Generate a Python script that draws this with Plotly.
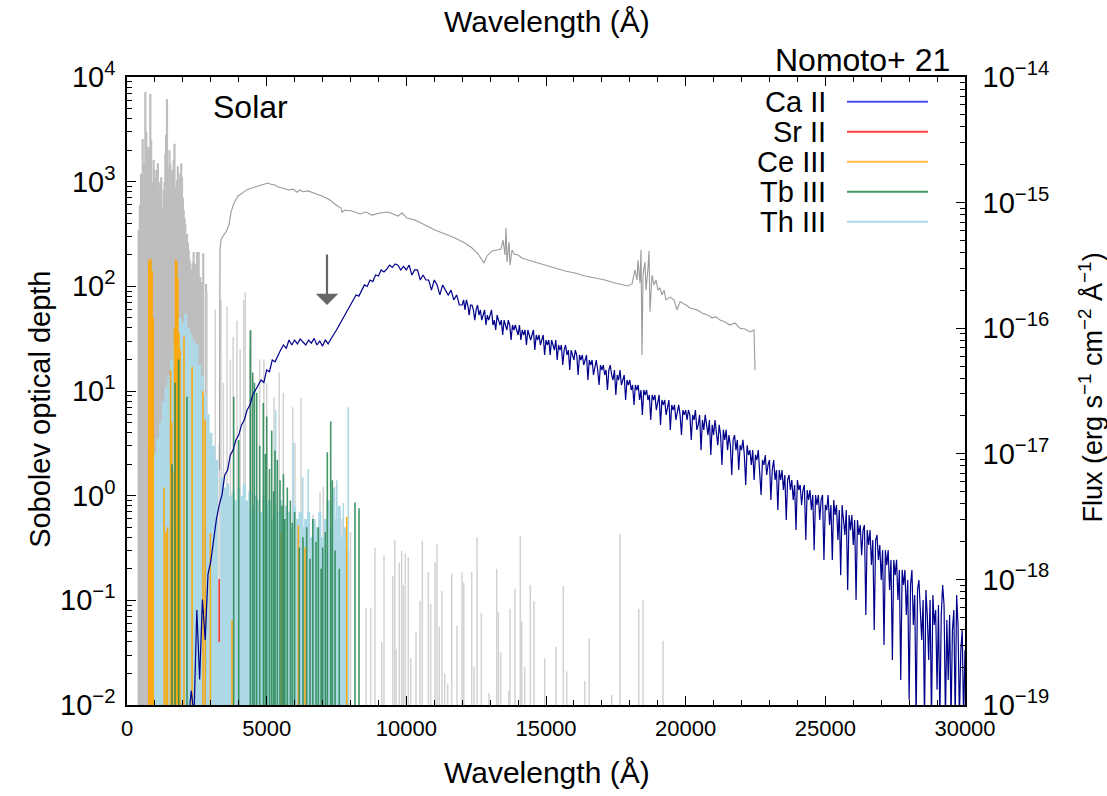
import math
import plotly.graph_objects as go

# ---------------- data ----------------
# Model spectrum (navy), flux in erg/s/cm^2/A  -> right axis
model_wl = [2200, 2300, 2400, 2500, 2600, 2700, 2800, 2900, 3000, 3100, 3200, 3300, 3400, 3500, 3600, 3700, 3800, 3900,
            4000, 4100, 4200, 4300, 4400, 4500, 4600, 4700, 4800, 4900, 5000, 5100, 5200, 5300, 5400, 5500, 5600, 5700,
            5800, 5900, 6000, 6100, 6200, 6300, 6400, 6500, 6600, 6700, 6800, 6900, 7000, 7100, 7200, 7300, 7400, 7500,
            7600, 7700, 7800, 7900, 8000, 8100, 8200, 8300, 8400, 8500, 8600, 8700, 8800, 8900, 9000, 9100, 9200, 9300,
            9400, 9500, 9600, 9700, 9800, 9900, 10000, 10100, 10200, 10300, 10400, 10500, 10600, 10700, 10800, 10900,
            11000, 11100, 11200, 11300, 11400, 11500, 11600, 11700, 11800, 11900,
            12000, 12050, 12100, 12150, 12200, 12250, 12300, 12350, 12400, 12450, 12500, 12550, 12600, 12650, 12700,
            12750, 12800, 12850, 12900, 12950, 13000, 13050, 13100, 13150, 13200, 13250, 13300, 13350, 13400, 13450,
            13500, 13550, 13600, 13650, 13700, 13750, 13800, 13850, 13900, 13950, 14000, 14050, 14100, 14150, 14200,
            14250, 14300, 14350, 14400, 14450, 14500, 14550, 14600, 14650, 14700, 14750, 14800, 14850, 14900, 14950,
            15000, 15050, 15100, 15150, 15200, 15250, 15300, 15350, 15400, 15450, 15500, 15550, 15600, 15650, 15700,
            15750, 15800, 15850, 15900, 15950, 16000, 16050, 16100, 16150, 16200, 16250, 16300, 16350, 16400, 16450,
            16500, 16550, 16600, 16650, 16700, 16750, 16800, 16850, 16900, 16950, 17000, 17050, 17100, 17150, 17200,
            17250, 17300, 17350, 17400, 17450, 17500, 17550, 17600, 17650, 17700, 17750, 17800, 17850, 17900, 17950,
            18000, 18050, 18100, 18150, 18200, 18250, 18300, 18350, 18400, 18450, 18500, 18550, 18600, 18650, 18700,
            18750, 18800, 18850, 18900, 18950, 19000, 19050, 19100, 19150, 19200, 19250, 19300, 19350, 19400, 19450,
            19500, 19550, 19600, 19650, 19700, 19750, 19800, 19850, 19900, 19950, 20000, 20050, 20100, 20150, 20200,
            20250, 20300, 20350, 20400, 20450, 20500, 20550, 20600, 20650, 20700, 20750, 20800, 20850, 20900, 20950,
            21000, 21050, 21100, 21150, 21200, 21250, 21300, 21350, 21400, 21450, 21500, 21550, 21600, 21650, 21700,
            21750, 21800, 21850, 21900, 21950, 22000, 22050, 22100, 22150, 22200, 22250, 22300, 22350, 22400, 22450,
            22500, 22550, 22600, 22650, 22700, 22750, 22800, 22850, 22900, 22950, 23000, 23050, 23100, 23150, 23200,
            23250, 23300, 23350, 23400, 23450, 23500, 23550, 23600, 23650, 23700, 23750, 23800, 23850, 23900, 23950,
            24000, 24050, 24100, 24150, 24200, 24250, 24300, 24350, 24400, 24450, 24500, 24550, 24600, 24650, 24700,
            24750, 24800, 24850, 24900, 24950, 25000, 25050, 25100, 25150, 25200, 25250, 25300, 25350, 25400, 25450,
            25500, 25550, 25600, 25650, 25700, 25750, 25800, 25850, 25900, 25950, 26000, 26050, 26100, 26150, 26200,
            26250, 26300, 26350, 26400, 26450, 26500, 26550, 26600, 26650, 26700, 26750, 26800, 26850, 26900, 26950,
            27000, 27050, 27100, 27150, 27200, 27250, 27300, 27350, 27400, 27450, 27500, 27550, 27600, 27650, 27700,
            27750, 27800, 27850, 27900, 27950, 28000, 28050, 28100, 28150, 28200, 28250, 28300, 28350, 28400, 28450,
            28500, 28550, 28600, 28650, 28700, 28750, 28800, 28850, 28900, 28950, 29000, 29050, 29100, 29150, 29200,
            29250, 29300, 29350, 29400, 29450, 29500, 29550, 29600, 29650, 29700, 29750, 29800, 29850, 29900, 29950,
            30000]
model_flux = [7.6e-20, 1.3e-19, 8.3e-20, 5.7e-19, 1.6e-19, 6.9e-19, 3.3e-19, 1.1e-18, 1.4e-18, 2.1e-18, 3.0e-18,
              3.9e-18, 4.7e-18, 6.8e-18, 7.4e-18, 9.8e-18, 1.07e-17, 1.29e-17,
              1.41e-17, 1.70e-17, 1.86e-17, 2.23e-17, 2.45e-17, 2.94e-17, 3.22e-17, 3.53e-17, 3.87e-17, 3.7e-17,
              4.65e-17, 4.5e-17, 5.58e-17, 5.4e-17, 6.12e-17, 6.70e-17, 7.35e-17, 6.9e-17,
              8.05e-17, 7.35e-17, 8.05e-17, 7.5e-17, 8.2e-17, 7.7e-17, 7.35e-17, 8.05e-17, 7.6e-17, 8.3e-17, 7.35e-17,
              7.9e-17, 7.2e-17, 8.05e-17, 7.5e-17, 8.2e-17, 8.83e-17, 9.68e-17,
              1.06e-16, 1.16e-16, 1.27e-16, 1.40e-16, 1.53e-16, 1.68e-16, 1.84e-16, 1.80e-16, 2.01e-16, 2.21e-16,
              2.15e-16, 2.42e-16, 2.35e-16, 2.65e-16, 2.60e-16, 2.91e-16, 2.80e-16, 2.95e-16,
              3.18e-16, 3.05e-16, 3.25e-16, 3.18e-16, 2.91e-16, 3.10e-16, 2.91e-16, 3.18e-16, 2.65e-16, 2.91e-16,
              2.91e-16, 2.42e-16, 2.65e-16, 2.42e-16, 2.42e-16, 2.01e-16,
              2.42e-16, 2.21e-16, 1.84e-16, 2.21e-16, 2.01e-16, 1.84e-16, 2.01e-16, 1.68e-16, 1.84e-16, 1.53e-16,
              # 12000 - 15000
              1.53e-16, 1.68e-16, 1.40e-16, 1.68e-16, 1.53e-16, 1.27e-16, 1.53e-16, 1.53e-16, 1.40e-16, 1.16e-16,
              1.40e-16, 1.53e-16, 1.27e-16, 1.40e-16, 1.16e-16, 1.27e-16, 1.40e-16, 1.06e-16, 1.27e-16, 1.16e-16,
              1.27e-16, 1.40e-16, 1.06e-16, 1.16e-16, 9.68e-17, 1.27e-16, 1.16e-16, 1.06e-16, 1.16e-16, 8.83e-17,
              1.16e-16, 1.06e-16, 9.68e-17, 1.16e-16, 1.06e-16, 8.05e-17, 1.06e-16, 9.68e-17, 1.06e-16, 9.68e-17,
              8.83e-17, 1.06e-16, 8.05e-17, 9.68e-17, 8.83e-17, 9.68e-17, 7.35e-17, 9.68e-17, 8.83e-17, 8.05e-17,
              8.83e-17, 9.68e-17, 6.70e-17, 8.83e-17, 8.05e-17, 8.83e-17, 7.35e-17, 8.05e-17, 8.83e-17, 6.12e-17,
              8.05e-17,
              # 15050 - 20000
              7.35e-17, 8.05e-17, 6.12e-17, 8.05e-17, 7.35e-17, 6.70e-17, 8.05e-17, 5.58e-17, 7.35e-17, 6.70e-17,
              7.35e-17, 5.09e-17, 6.70e-17, 7.35e-17, 6.12e-17, 6.70e-17, 4.65e-17, 6.70e-17, 6.12e-17, 5.58e-17,
              6.70e-17, 6.12e-17, 4.24e-17, 6.12e-17, 5.58e-17, 6.12e-17, 5.09e-17, 5.58e-17, 6.12e-17, 3.87e-17,
              5.58e-17, 5.09e-17, 5.58e-17, 4.24e-17, 5.09e-17, 5.58e-17, 4.65e-17, 3.53e-17, 5.09e-17, 4.65e-17,
              5.09e-17, 4.24e-17, 4.65e-17, 3.22e-17, 4.65e-17, 5.09e-17, 4.24e-17, 3.87e-17, 4.65e-17, 2.94e-17,
              4.24e-17, 3.87e-17, 4.65e-17, 3.53e-17, 3.87e-17, 4.24e-17, 2.68e-17, 3.87e-17, 3.53e-17, 3.87e-17,
              3.22e-17, 3.53e-17, 2.45e-17, 3.53e-17, 3.22e-17, 3.53e-17, 2.68e-17, 3.22e-17, 2.04e-17, 3.22e-17,
              2.94e-17, 3.22e-17, 2.68e-17, 2.94e-17, 1.86e-17, 2.94e-17, 2.68e-17, 2.94e-17, 2.23e-17, 2.68e-17,
              2.94e-17, 1.70e-17, 2.68e-17, 2.45e-17, 2.68e-17, 2.04e-17, 2.45e-17, 2.68e-17, 1.55e-17, 2.45e-17,
              2.23e-17, 2.45e-17, 1.86e-17, 2.23e-17, 2.45e-17, 2.04e-17, 1.41e-17, 2.23e-17, 2.04e-17, 2.23e-17,
              # 20050 - 25000
              1.86e-17, 2.23e-17, 2.04e-17, 1.29e-17, 2.04e-17, 1.86e-17, 2.23e-17, 1.55e-17, 1.70e-17, 2.04e-17,
              1.07e-17, 1.86e-17, 1.55e-17, 2.04e-17, 1.70e-17, 1.41e-17, 1.86e-17, 9.78e-18, 1.70e-17, 1.41e-17,
              1.86e-17, 1.55e-17, 1.17e-17, 1.70e-17, 1.41e-17, 8.15e-18, 1.55e-17, 1.29e-17, 1.55e-17, 1.07e-17,
              1.41e-17, 1.17e-17, 6.78e-18, 1.29e-17, 1.41e-17, 1.07e-17, 1.29e-17, 7.43e-18, 1.17e-17, 1.07e-17,
              1.29e-17, 9.78e-18, 5.65e-18, 1.17e-17, 9.78e-18, 1.07e-17, 8.15e-18, 1.07e-17, 6.19e-18, 9.78e-18,
              8.93e-18, 1.07e-17, 7.43e-18, 4.70e-18, 8.93e-18, 8.15e-18, 9.78e-18, 6.78e-18, 8.15e-18, 8.93e-18,
              4.29e-18, 7.43e-18, 8.93e-18, 6.19e-18, 7.43e-18, 3.57e-18, 7.43e-18, 6.19e-18, 7.43e-18, 5.15e-18,
              6.78e-18, 2.97e-18, 6.19e-18, 6.78e-18, 5.15e-18, 6.19e-18, 4.29e-18, 5.65e-18, 2.47e-18, 6.19e-18,
              5.15e-18, 5.65e-18, 3.91e-18, 5.15e-18, 5.65e-18, 2.06e-18, 5.15e-18, 4.29e-18, 5.15e-18, 3.57e-18,
              4.70e-18, 1.71e-18, 4.70e-18, 3.91e-18, 4.70e-18, 2.97e-18, 4.29e-18, 4.70e-18, 1.43e-18, 3.91e-18,
              # 25050 - 28000
              3.57e-18, 4.70e-18, 2.71e-18, 3.91e-18, 1.43e-18, 4.29e-18, 3.26e-18, 3.91e-18, 2.06e-18, 3.57e-18,
              1.08e-18, 3.91e-18, 2.97e-18, 2.26e-18, 3.57e-18, 8.24e-19, 3.26e-18, 2.47e-18, 3.26e-18, 1.88e-18,
              2.97e-18, 6.85e-19, 2.97e-18, 2.26e-18, 2.71e-18, 1.56e-18, 2.47e-18, 2.71e-18, 5.21e-19, 2.47e-18,
              1.88e-18, 2.47e-18, 1.30e-18, 2.06e-18, 3.95e-19, 2.06e-18, 2.26e-18, 1.43e-18, 1.88e-18, 9.89e-19,
              1.71e-18, 3.01e-19, 1.71e-18, 1.30e-18, 1.71e-18, 8.24e-19, 1.43e-18, 2.28e-19, 1.43e-18, 1.08e-18,
              1.43e-18, 6.85e-19, 1.19e-18, 1.58e-19, 1.19e-18, 9.02e-19, 1.19e-18, 5.21e-19, 9.89e-19, 1.10e-19,
              # 28050 - 30000
              9.02e-19, 1.19e-18, 4.34e-19, 7.51e-19, 7.6e-20, 8.24e-19, 9.89e-19, 5.70e-19, 3.29e-19, 6.85e-19,
              7.6e-20, 8.24e-19, 5.21e-19, 2.28e-19, 6.85e-19, 7.6e-20, 7.51e-19, 4.34e-19, 5.70e-19, 1.32e-19,
              6.25e-19, 7.6e-20, 5.21e-19, 9.02e-19, 6.25e-19, 7.6e-20, 4.75e-19, 1.58e-19, 5.21e-19, 7.6e-20,
              3.95e-19, 5.70e-19, 7.6e-20, 7.51e-19, 4.34e-19, 7.6e-20, 2.74e-19, 3.95e-19, 7.6e-20, 2.74e-19]

# Observed spectrum (gray), right axis
obs_wl = [3312, 3329, 3365, 3437, 3544, 3652, 3723, 3831, 3974, 4153, 4332, 4582, 4700, 4833, 5048, 5150, 5298, 5420,
          5549, 5800, 5943, 6086, 6193, 6300, 6480, 6730, 6981, 7100, 7267, 7482, 7661, 7697, 7804, 8055, 8341, 8556,
          8771, 9057, 9344, 9523, 9702, 9845, 10024, 10310, 10668, 11026, 11384, 11742, 12100, 12351, 12566, 12709,
          12781, 12888, 13067, 13246, 13389, 13461, 13532, 13568, 13604, 13676, 13711, 13783, 13855, 13998, 14141,
          14356, 14606, 14964, 15322, 15680, 16038, 16396, 16754, 17112, 17470, 17721, 17936, 18079, 18186, 18258,
          18294, 18365, 18401, 18437, 18473, 18544, 18580, 18652, 18688, 18723, 18795, 18867, 18938, 19010, 19081,
          19153, 19225, 19296, 19439, 19583, 19690, 19797, 20012, 20155, 20406, 20585, 20800, 20943, 21086, 21229,
          21408, 21587, 21766, 21945, 22124, 22303, 22447, 22482]
obs_flux = [7.4e-18, 4.19e-16, 5.04e-16, 5.42e-16, 5.83e-16, 6.64e-16, 8.41e-16, 9.93e-16, 1.13e-15, 1.21e-15,
            1.28e-15, 1.33e-15, 1.35e-15, 1.38e-15, 1.43e-15, 1.40e-15, 1.38e-15, 1.33e-15,
            1.31e-15, 1.26e-15, 1.28e-15, 1.21e-15, 1.26e-15, 1.22e-15, 1.24e-15, 1.19e-15, 1.13e-15, 1.10e-15,
            1.05e-15, 9.57e-16, 9.06e-16, 8.41e-16, 8.73e-16, 8.57e-16, 8.11e-16, 8.41e-16,
            7.96e-16, 8.26e-16, 8.41e-16, 8.11e-16, 7.82e-16, 8.26e-16, 7.54e-16, 7.27e-16, 6.64e-16, 6.05e-16,
            5.62e-16, 5.22e-16, 4.77e-16, 4.35e-16, 3.90e-16, 3.49e-16,
            3.30e-16, 3.76e-16, 4.12e-16, 4.19e-16, 4.27e-16, 5.04e-16, 3.83e-16, 6.28e-16, 3.37e-16, 4.86e-16,
            3.18e-16, 4.19e-16, 3.90e-16, 3.83e-16, 3.62e-16,
            3.49e-16, 3.37e-16, 3.18e-16, 3.01e-16, 2.85e-16, 2.75e-16, 2.60e-16, 2.51e-16, 2.42e-16, 2.29e-16,
            2.21e-16, 2.17e-16, 2.25e-16, 2.91e-16, 2.42e-16,
            3.49e-16, 2.29e-16, 4.19e-16, 6.12e-17, 2.65e-16, 3.37e-16, 2.01e-16, 3.01e-16, 4.12e-16, 1.35e-16,
            2.65e-16, 2.21e-16, 2.42e-16, 2.01e-16, 2.09e-16,
            1.84e-16, 2.01e-16, 1.68e-16, 1.77e-16, 1.68e-16, 1.40e-16, 1.62e-16, 1.53e-16, 1.45e-16, 1.40e-16,
            1.32e-16, 1.27e-16, 1.21e-16, 1.23e-16, 1.16e-16,
            1.12e-16, 1.06e-16, 1.10e-16, 1.00e-16, 9.86e-17, 9.33e-17, 9.68e-17, 4.65e-17]

# Sobolev optical depths of lines (left axis)
all_dense_wl = [418, 460, 501, 530, 561, 610, 656, 690, 716, 750, 776, 805, 835, 865, 895, 925, 955, 985, 1015, 1045,
                1074, 1105, 1134, 1165, 1193, 1225, 1253, 1285, 1313, 1345, 1372, 1400, 1432, 1462, 1492, 1520, 1551,
                1580, 1611, 1640, 1671, 1700, 1730, 1760, 1790, 1820, 1850, 1880, 1909, 1940, 1969, 2000, 2029, 2060,
                2088, 2120, 2148, 2180, 2208, 2240, 2267, 2300, 2327, 2360, 2387, 2420, 2446, 2480, 2506, 2540, 2566,
                2600, 2625, 2670, 2730, 2830]
all_dense_tau = [346, 600, 1190, 900, 2560, 1500, 7190, 3000, 2140, 1200, 2140, 1800, 6880, 2500, 990, 700, 1610, 1300,
                 1110, 800, 1290, 1500, 990, 700, 950, 1100, 573, 400, 834, 1000, 1840, 2800, 6160, 900, 1380, 2000,
                 1480, 1100, 1290, 900, 1610, 2300, 890, 700, 1040, 1400, 1190, 800, 1110, 1500, 1110, 700, 537, 450,
                 394, 300, 316, 260, 223, 180, 164, 120, 144, 170, 213, 150, 164, 120, 213, 180, 213, 90, 123, 110,
                 207, 105]
all_sparse_wl = [2864, 3162, 3300, 3365, 3450, 3580, 3700, 3800, 3938, 4050, 4178, 4235, 4400, 4450, 4750, 4900, 5000,
                 5263, 5450, 5596, 5932, 6014, 6229, 6659, 6909, 7028, 7300, 7507, 7700, 8000, 8556, 8724, 8878, 9118,
                 9201, 9512, 9584, 9630, 9748, 9834, 9891, 9963, 10070, 10157, 10346, 10490, 10572, 10787, 10872,
                 11026, 11098, 11180, 11277, 11374, 11481, 11624, 11814, 11993, 12054, 12340, 12423, 12530, 12684,
                 12960, 13235, 13293, 13378, 13665, 13711, 13890, 14080, 14130, 14237, 14438, 14571, 14954, 15358,
                 15620, 15741, 16386, 16550, 17352, 17649, 18319, 18473, 19189]
all_sparse_tau = [90, 60, 3.2, 74, 12, 64, 20, 33, 47, 25, 74, 88, 25, 38, 20, 20, 12, 8.8, 15, 9.6, 7.0, 3.2, 8.6,
                  0.66, 1.09, 1.21, 0.9, 1.33, 0.6, 0.45, 0.085, 0.085, 0.32, 0.040, 0.27, 0.171, 0.38, 0.034, 0.23,
                  0.30, 0.14, 0.28, 0.26, 0.028, 0.050, 0.099, 0.37, 0.187, 0.093, 0.23, 0.35, 0.056, 0.123, 0.020,
                  0.016, 0.18, 0.057, 0.184, 0.147, 0.187, 0.023, 0.40, 0.076, 0.013, 0.20, 0.077, 0.032, 0.0137,
                  0.083, 0.129, 0.41, 0.063, 0.023, 0.14, 0.098, 0.028, 0.036, 0.137, 0.021, 0.017, 0.043, 0.0125,
                  0.43, 0.083, 0.10, 0.041]

caII_wl = [2137, 2506, 2864, 3162]
caII_tau = [0.11, 0.13, 0.5, 0.22]

srII_wl = [3300]
srII_tau = [0.16]

ceIII_wl = [780, 820, 860, 900, 940, 1330, 1400, 1450, 1560, 1600, 1640, 1700, 1740, 1780, 1820, 1860, 1900, 2040,
            2330, 2720, 2800, 2983, 3760, 5525, 6133, 6372, 7865]
ceIII_tau = [180, 170, 183, 140, 50, 1.2, 0.45, 0.5, 16, 5, 1.7, 40, 180, 175, 120, 36, 25, 33,
             17, 10, 5.3, 0.44, 0.065, 0.44, 0.52, 0.32, 0.63]

tbIII_wl = [1611, 1720, 1850, 2148, 3820, 4000, 4415, 4500, 4560, 4643, 4750, 4880, 4950, 5001, 5100, 5180, 5250,
            5298, 5381, 5477, 5550, 5600, 5650, 5739, 5850, 5918, 6000, 6168, 6300, 6433, 6550, 6650, 6766, 6849,
            6950, 7006, 7100, 7171, 7292, 7350, 7450, 7600, 8162, 8306]
tbIII_tau = [2.0, 12, 20, 8.8, 8.8, 3.4, 38, 15, 12, 9.6, 3.0, 7.7, 2.5, 5.7, 1.8, 4.2, 1.1,
             2.7, 2.2, 1.4, 0.8, 1.6, 0.6, 1.2, 0.9, 0.55, 0.7, 0.32, 0.4, 0.50, 0.25, 0.6, 0.36, 0.50,
             0.2, 0.32, 0.45, 2.6, 5.1, 1.4, 0.3, 0.2, 0.86, 0.76]

thIII_wl = [900, 1000, 1100, 1200, 1300, 1400, 1500, 1600, 1700, 1800, 1900, 2000, 2100, 2200, 2300, 2400, 2500, 2600,
            2700, 2800, 2900, 3000, 3100, 3200, 3300, 3400, 3500, 3600, 3700, 3800, 3900, 4000, 4100, 4200, 4300,
            4400, 4500, 4600, 4700, 4800, 4900, 5000, 5100, 5200, 5300, 5400, 5500, 5600, 5700, 5800, 5900, 6000,
            6100, 6200, 6300, 6400, 6500, 6600, 6700, 6800, 6900, 7000, 7100, 7200, 7300, 7400, 7500, 7600, 7700,
            7800, 7900]
thIII_tau = [3.0, 2.5, 3.5, 5, 8, 11, 14, 20, 28, 40, 50, 45, 55, 40, 35, 30, 28, 18,
             14, 9, 6, 4, 3, 2.2, 0.04, 1.5, 1.2, 1.3, 1.0, 1.1, 0.9, 1.2, 1.0, 1.3, 0.9,
             1.1, 0.8, 1.0, 0.9, 0.7, 1.0, 0.8, 0.9, 0.6, 0.8, 0.7, 0.9, 0.6, 0.8, 0.7, 0.5, 0.8,
             0.6, 0.7, 0.5, 0.6, 0.7, 0.4, 0.6, 0.5, 0.7, 0.4, 0.6, 0.9, 0.5, 1.2, 0.6, 0.8, 0.4,
             0.5, 0.3]
thIII_strong_wl = [5320, 5954, 6290, 6490, 7507, 7744, 7923]
thIII_strong_tau = [6.6, 3.2, 1.5, 1.8, 1.4, 0.85, 7.0]

arrow_wl = 7160
arrow_tip_flux = 1.53e-16

x_range = [0, 30000]
tau_range_log = [-2, 4]
flux_range_log = [-19, -14]

assert len(model_wl) == len(model_flux)
assert len(obs_wl) == len(obs_flux)

# ---------------- helpers ----------------
FLOOR = 1e-4


def impulses(wls, taus):
    xs, ys = [], []
    for w, t in zip(wls, taus):
        xs += [w, w, None]
        ys += [FLOOR, t, None]
    return xs, ys


fig = go.Figure()


def add_lines(wls, taus, color, width, name):
    xs, ys = impulses(wls, taus)
    fig.add_trace(go.Scatter(x=xs, y=ys, mode="lines", line=dict(color=color, width=width),
                             name=name, showlegend=False, hoverinfo="skip", xaxis="x", yaxis="y"))


add_lines(all_dense_wl, all_dense_tau, "#bebebe", 2.2, "all")
add_lines(all_sparse_wl, all_sparse_tau, "#d2d2d2", 1.5, "all")
add_lines(caII_wl, caII_tau, "rgba(0,0,255,0.65)", 1.6, "Ca II")
add_lines(srII_wl, srII_tau, "rgba(255,0,0,0.75)", 1.6, "Sr II")
add_lines(thIII_wl, thIII_tau, "#add8e6", 3.2, "Th III")
add_lines(thIII_strong_wl, thIII_strong_tau, "#add8e6", 1.6, "Th III")
add_lines(ceIII_wl, ceIII_tau, "rgba(255,165,0,0.9)", 1.6, "Ce III")
add_lines(tbIII_wl, tbIII_tau, "rgba(46,139,87,0.9)", 1.6, "Tb III")

fig.add_trace(go.Scatter(x=model_wl, y=model_flux, mode="lines", line=dict(color="#00008b", width=1.2),
                         showlegend=False, hoverinfo="skip", xaxis="x", yaxis="y2"))
fig.add_trace(go.Scatter(x=obs_wl, y=obs_flux, mode="lines", line=dict(color="#9a9a9a", width=1.1),
                         showlegend=False, hoverinfo="skip", xaxis="x", yaxis="y2"))
# invisible trace anchoring the top axis
fig.add_trace(go.Scatter(x=x_range, y=[1, 1], mode="lines", opacity=0, showlegend=False,
                         hoverinfo="skip", xaxis="x2", yaxis="y"))

FONT = "Liberation Sans, Arial, Helvetica, sans-serif"
xtick_font = dict(family=FONT, size=22, color="black")
ytick_font = dict(family=FONT, size=29, color="black")

left_vals = [10.0 ** k for k in range(-2, 5)]
left_text = ["10<sup>−2</sup>", "10<sup>−1</sup>", "10<sup>0</sup>", "10<sup>1</sup>", "10<sup>2</sup>",
             "10<sup>3</sup>", "10<sup>4</sup>"]
left_minor = [m * 10.0 ** k for k in range(-2, 4) for m in range(2, 10)]
right_vals = [10.0 ** k for k in range(-19, -13)]
right_text = ["10<sup>−19</sup>", "10<sup>−18</sup>", "10<sup>−17</sup>", "10<sup>−16</sup>", "10<sup>−15</sup>",
              "10<sup>−14</sup>"]
right_minor = [m * 10.0 ** k for k in range(-19, -14) for m in range(2, 10)]

axis_common = dict(showline=True, linecolor="black", linewidth=1.5, ticks="inside", tickcolor="black",
                   tickwidth=1.2, showgrid=False, zeroline=False, automargin=False)

fig.update_layout(
    width=1107, height=796, autosize=False,
    margin=dict(l=127, r=142, t=77, b=91, pad=0),
    paper_bgcolor="white", plot_bgcolor="white",
    font=dict(family=FONT, color="black"),
    showlegend=False,
    xaxis=dict(range=x_range, tick0=0, dtick=5000, tickformat="d", ticklen=9, tickfont=xtick_font,
               ticklabelstandoff=3,
               minor=dict(dtick=1000, tick0=0, ticks="inside", ticklen=5, tickcolor="black", tickwidth=1),
               **axis_common),
    xaxis2=dict(range=x_range, overlaying="x", side="top", tick0=0, dtick=5000, ticklen=9,
                showticklabels=False, anchor="y",
                minor=dict(dtick=1000, tick0=0, ticks="inside", ticklen=5, tickcolor="black", tickwidth=1),
                **axis_common),
    yaxis=dict(type="log", range=tau_range_log, tickvals=left_vals, ticktext=left_text, ticklen=9,
               tickfont=ytick_font, ticklabelstandoff=4,
               minor=dict(tickvals=left_minor, ticks="inside", ticklen=5, tickcolor="black", tickwidth=1),
               **axis_common),
    yaxis2=dict(type="log", range=flux_range_log, overlaying="y", side="right", anchor="x",
                tickvals=right_vals, ticktext=right_text, ticklen=9, tickfont=ytick_font, ticklabelstandoff=10,
                minor=dict(tickvals=right_minor, ticks="inside", ticklen=5, tickcolor="black", tickwidth=1),
                **axis_common),
)

# axis titles placed as annotations (paper coordinates)
title_specs = [
    ("Wavelength (Å)", 0.501, -0.108, 0, 30),
    ("Wavelength (Å)", 0.501, 1.0876, 0, 30),
    ("Sobolev optical depth", -0.1038, 0.47, -90, 29),
    ("Flux (erg s<sup>−1</sup> cm<sup>−2</sup> Å<sup>−1</sup>)", 1.1500, 0.505, -90, 27),
]
for txt, xx, yy, ang, fs in title_specs:
    fig.add_annotation(x=xx, y=yy, xref="paper", yref="paper", text=txt, showarrow=False, textangle=ang,
                       xanchor="center", yanchor="middle", font=dict(family=FONT, size=fs, color="black"))

# arrow marking the plateau
fig.add_annotation(x=arrow_wl, y=math.log10(arrow_tip_flux), xref="x", yref="y2", text="",
                   showarrow=True, ax=0, ay=-52, arrowhead=1, arrowsize=1.7, arrowwidth=2.2,
                   arrowcolor="#666666", standoff=0)

# panel labels
fig.add_annotation(x=0.1002, y=0.9522, xref="paper", yref="paper", text="Solar", showarrow=False,
                   xanchor="left", yanchor="middle", font=dict(family=FONT, size=32, color="black"))
fig.add_annotation(x=0.9845, y=1.027, xref="paper", yref="paper", text="Nomoto+ 21", showarrow=False,
                   xanchor="right", yanchor="middle", font=dict(family=FONT, size=32, color="black"))

# manual gnuplot-style legend (text, then line sample)
legend_names = ["Ca II", "Sr II", "Ce III", "Tb III", "Th III"]
legend_colors = ["rgba(0,0,255,0.7)", "rgba(255,0,0,0.75)", "rgba(255,165,0,0.75)", "rgba(46,139,87,0.9)",
                 "#add8e6"]
legend_y = [0.9607, 0.9129, 0.8651, 0.8174, 0.7696]
for nm, col, yy in zip(legend_names, legend_colors, legend_y):
    fig.add_annotation(x=0.8365, y=yy, xref="paper", yref="paper", text=nm, showarrow=False,
                       xanchor="right", yanchor="middle", font=dict(family=FONT, size=29, color="black"))
    fig.add_shape(type="line", xref="paper", yref="paper", x0=0.8592, x1=0.9558, y0=yy, y1=yy,
                  line=dict(color=col, width=2))

fig.write_html("out.html")
